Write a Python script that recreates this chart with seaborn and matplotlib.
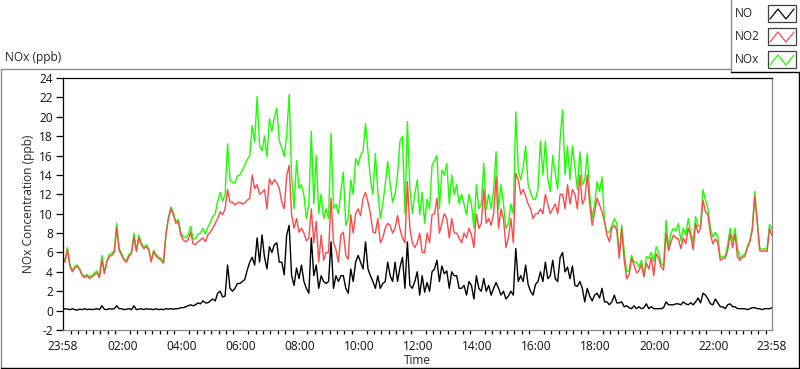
import matplotlib
import matplotlib.pyplot as plt
import numpy as np
import pandas as pd
import seaborn as sns
from matplotlib.lines import Line2D
from matplotlib.patches import Rectangle

matplotlib.use("Agg")

# --- DATA (5-minute readings, starting 23:58) ---
STEP_MIN = 5

no_ppb = [
    0.10, 0.20, 0.15, 0.10, 0.20, 0.10, 0.05, 0.15, 0.10, 0.20, 0.10, 0.15,
    0.10, 0.15, 0.20, 0.10, 0.50, 0.15, 0.10, 0.20, 0.15, 0.20, 0.50, 0.20,
    0.20, 0.10, 0.15, 0.20, 0.10, 0.50, 0.10, 0.15, 0.20, 0.10, 0.20, 0.15,
    0.15, 0.10, 0.20, 0.10, 0.15, 0.10, 0.20, 0.15, 0.20, 0.15, 0.20, 0.20,
    0.30, 0.30, 0.40, 0.50, 0.60, 0.50, 0.60, 0.80, 0.70, 1.00, 0.80, 0.80,
    1.00, 1.20, 1.00, 1.80, 2.00, 1.40, 1.50, 4.70, 2.30, 2.00, 2.30, 2.80,
    2.80, 3.00, 3.20, 4.20, 5.00, 5.50, 4.70, 7.50, 5.00, 7.80, 5.50, 4.30,
    6.60, 6.00, 6.80, 7.00, 5.00, 5.00, 3.70, 7.80, 8.80, 3.60, 2.60, 4.40,
    3.30, 4.70, 3.00, 2.30, 1.80, 7.50, 3.60, 4.70, 2.30, 3.60, 3.00, 2.80,
    3.00, 7.10, 2.30, 3.60, 3.00, 3.60, 3.60, 2.30, 1.80, 4.30, 3.00, 5.00,
    5.70, 5.00, 4.30, 7.10, 4.30, 3.60, 3.00, 2.30, 3.60, 2.30, 2.80, 3.00,
    5.00, 3.60, 3.00, 5.00, 3.00, 4.50, 5.50, 2.30, 7.10, 2.60, 2.30, 3.00,
    4.00, 1.60, 3.60, 1.90, 2.90, 2.00, 4.00, 4.30, 5.20, 3.00, 4.60, 3.80,
    4.10, 2.30, 4.00, 3.60, 3.60, 2.30, 2.30, 2.60, 1.60, 3.00, 2.60, 1.20,
    3.60, 2.30, 2.00, 3.30, 2.00, 2.60, 1.60, 2.30, 2.90, 2.30, 1.60, 2.00,
    1.20, 1.50, 2.00, 1.60, 6.40, 3.00, 3.60, 3.00, 4.70, 2.70, 2.00, 1.60,
    2.70, 3.00, 4.00, 3.00, 5.00, 3.30, 3.60, 5.20, 3.30, 3.00, 5.50, 6.00,
    4.00, 4.50, 3.30, 4.60, 2.60, 2.50, 3.00, 2.30, 0.90, 2.30, 1.50, 1.00,
    1.60, 1.80, 1.30, 2.30, 0.90, 0.90, 0.60, 0.90, 1.60, 0.80, 0.80, 0.90,
    0.40, 0.50, 0.30, 0.20, 0.50, 0.20, 0.40, 0.20, 0.30, 0.70, 0.20, 0.40,
    0.20, 0.20, 0.20, 0.20, 0.30, 0.90, 0.60, 0.60, 0.60, 0.70, 0.70, 0.60,
    0.90, 0.70, 0.60, 0.80, 0.60, 0.90, 1.30, 0.80, 1.80, 1.60, 1.20, 0.70,
    0.60, 1.20, 0.80, 0.40, 0.40, 0.20, 0.60, 0.70, 0.40, 0.40, 0.20, 0.20,
    0.20, 0.20, 0.10, 0.20, 0.30, 0.30, 0.20, 0.20, 0.10, 0.20, 0.20, 0.20, 0.30,
]

no2_ppb = [
    5.4, 5.0, 6.3, 4.6, 4.0, 4.4, 4.6, 4.2, 3.6, 3.4, 3.6, 3.3,
    3.5, 3.7, 3.9, 3.4, 5.3, 3.8, 5.0, 5.6, 5.7, 6.0, 8.6, 6.2,
    5.7, 5.2, 5.0, 5.6, 5.9, 7.6, 6.1, 7.5, 6.8, 6.4, 6.6, 6.3,
    5.0, 6.1, 5.6, 5.4, 5.2, 4.9, 7.8, 9.5, 10.5, 9.9, 9.0, 9.2,
    7.8, 7.3, 7.1, 7.3, 8.1, 6.9, 6.8, 7.1, 7.3, 7.5, 7.1, 7.8,
    8.1, 8.5, 9.0, 9.5, 10.2, 9.9, 10.5, 12.5, 11.2, 11.2, 10.9, 11.1,
    11.2, 11.0, 11.1, 11.4, 11.6, 14.0, 12.6, 13.0, 12.0, 12.2, 12.5, 10.5,
    13.6, 13.0, 13.5, 13.2, 12.6, 11.2, 10.5, 13.9, 15.0, 9.9, 8.5, 9.5,
    8.1, 8.5, 8.0, 7.2, 7.5, 10.5, 7.0, 9.2, 5.0, 7.8, 5.2, 6.0,
    6.0, 11.6, 7.0, 6.3, 5.0, 7.8, 8.1, 5.7, 5.3, 9.9, 8.0, 10.0,
    10.5, 9.8, 11.6, 12.2, 11.2, 10.0, 8.1, 8.0, 9.5, 7.0, 7.5, 8.5,
    9.0, 8.8, 8.0, 8.5, 9.8, 8.4, 7.5, 7.0, 13.3, 8.5, 7.0, 6.5,
    7.0, 8.0, 6.0, 6.0, 8.0, 7.0, 9.9, 10.0, 11.6, 8.0, 9.0, 10.0,
    9.5, 7.5, 9.5, 8.0, 8.0, 7.5, 7.0, 8.0, 7.5, 8.5, 7.8, 6.5,
    10.0, 8.5, 9.0, 12.5, 9.0, 9.5, 8.8, 10.0, 13.8, 8.5, 10.5, 9.5,
    6.5, 7.5, 9.5, 7.0, 14.2, 13.5, 12.0, 12.5, 11.8, 11.0, 10.5, 9.5,
    10.0, 10.0, 10.5, 10.0, 12.0, 11.0, 10.0, 10.5, 11.0, 10.0, 12.0, 12.0,
    10.5, 13.0, 11.0, 12.5, 12.0, 10.5, 14.0, 11.0, 11.5, 14.0, 11.0, 8.8,
    10.2, 11.6, 10.9, 10.2, 9.2, 7.8, 7.1, 8.5, 8.8, 8.3, 5.4, 8.5,
    5.2, 3.3, 3.7, 5.4, 4.7, 3.9, 4.1, 4.8, 3.5, 4.9, 4.3, 5.5,
    3.6, 5.9, 5.4, 4.5, 4.2, 8.0, 6.2, 7.1, 7.8, 7.5, 7.4, 6.4,
    7.5, 6.9, 8.5, 7.7, 6.3, 9.0, 8.0, 8.5, 11.4, 10.2, 9.9, 7.9,
    6.9, 7.4, 7.0, 5.2, 5.4, 5.4, 6.2, 7.9, 6.5, 7.9, 5.5, 5.2,
    5.5, 5.6, 6.5, 7.1, 8.3, 11.8, 9.1, 6.2, 6.1, 6.2, 6.1, 8.5, 7.7,
]

nox_ppb = [
    5.6, 5.2, 6.5, 4.8, 4.1, 4.6, 4.7, 4.3, 3.7, 3.6, 3.7, 3.5,
    3.6, 3.9, 4.1, 3.5, 5.7, 4.0, 5.1, 5.8, 5.9, 6.2, 9.0, 6.4,
    5.9, 5.3, 5.2, 5.8, 6.0, 8.0, 6.2, 7.8, 7.0, 6.5, 6.8, 6.4,
    5.2, 6.2, 5.8, 5.5, 5.4, 5.0, 8.0, 9.6, 10.7, 10.1, 9.2, 9.4,
    8.1, 7.6, 7.5, 7.8, 8.7, 7.4, 7.4, 7.9, 8.0, 8.5, 7.9, 8.6,
    9.1, 9.7, 10.0, 11.3, 12.2, 11.3, 12.0, 17.2, 13.5, 13.2, 13.2, 13.9,
    14.0, 14.5, 15.0, 15.6, 16.0, 19.1, 17.4, 22.1, 17.0, 16.5, 18.0, 15.9,
    19.8, 18.5, 20.0, 20.9, 17.5, 16.8, 15.9, 18.1, 22.3, 14.0, 10.5, 15.5,
    12.6, 13.0, 11.9, 9.5, 11.0, 18.5, 11.0, 16.0, 10.0, 12.0, 9.5, 10.5,
    9.5, 18.3, 10.5, 11.0, 10.0, 12.3, 14.3, 8.8, 9.5, 13.5, 12.0, 15.7,
    15.0, 16.0, 16.5, 19.3, 16.4, 13.5, 12.0, 16.2, 12.3, 9.5, 11.0, 13.0,
    15.4, 13.0, 11.2, 12.0, 14.0, 17.5, 18.0, 10.0, 19.5, 12.6, 10.0, 12.0,
    13.5, 9.9, 12.2, 9.0, 11.5, 10.5, 15.0, 15.5, 16.0, 10.5, 14.5, 14.0,
    15.2, 11.0, 14.0, 12.0, 13.0, 11.0, 12.0, 11.0, 9.9, 12.0, 11.0, 8.5,
    13.0, 10.5, 11.0, 15.2, 10.5, 12.0, 10.5, 12.5, 16.4, 10.5, 13.0, 11.0,
    8.5, 9.0, 11.0, 10.0, 20.5, 14.5, 13.5, 14.8, 17.0, 13.0, 12.2, 11.5,
    11.5, 12.5, 17.5, 14.0, 17.5, 13.5, 12.3, 16.0, 14.2, 12.5, 17.8, 20.7,
    14.0, 17.0, 13.5, 17.0, 14.8, 12.5, 16.4, 13.0, 13.5, 16.2, 12.0, 9.6,
    10.9, 13.3, 12.3, 13.8, 9.2, 8.1, 8.1, 8.8, 9.5, 9.0, 5.8, 8.8,
    6.1, 4.0, 4.1, 5.7, 5.0, 5.0, 4.5, 5.2, 3.5, 5.6, 5.4, 6.0,
    5.1, 6.6, 6.0, 4.9, 4.6, 9.3, 6.6, 8.0, 8.5, 8.2, 9.0, 7.2,
    8.5, 7.8, 9.5, 8.0, 7.1, 9.7, 8.7, 8.8, 12.5, 11.4, 10.5, 8.5,
    7.6, 8.1, 7.6, 5.5, 5.6, 5.6, 6.8, 8.5, 7.2, 8.5, 6.4, 5.4,
    5.7, 5.8, 6.6, 7.2, 8.5, 12.3, 9.3, 6.5, 6.3, 6.4, 6.4, 8.9, 8.4,
]

series_names = ["NO", "NO2", "NOx"]
series_colors = ["#000000", "#ff4848", "#1cff00"]
time_labels = ["23:58", "02:00", "04:00", "06:00", "08:00", "10:00", "12:00",
               "14:00", "16:00", "18:00", "20:00", "22:00", "23:58"]
y_ticks = list(range(-2, 26, 2))

W, H = 800, 369
FS = 8.6


def fx(px):
    return px / W


def fy(py):
    return 1 - py / H


minutes = np.arange(len(no_ppb)) * STEP_MIN
df = pd.DataFrame({"minute": minutes, "NO": no_ppb, "NO2": no2_ppb, "NOx": nox_ppb})
long_df = df.melt(id_vars="minute", var_name="series", value_name="ppb")

sns.set_style("white")
plt.rcParams["font.family"] = ["Open Sans", "DejaVu Sans"]
plt.rcParams["font.size"] = FS

fig = plt.figure(figsize=(W / 100, H / 100), dpi=100)
fig.patch.set_facecolor("white")
ax = fig.add_axes([fx(62.5), fy(330), fx(772) - fx(62.5), fy(78) - fy(330)])

# NOx behind, NO2 over it, NO on top
for name, zo in [("NOx", 1), ("NO2", 2), ("NO", 3)]:
    sns.lineplot(
        data=long_df[long_df["series"] == name], x="minute", y="ppb",
        color=series_colors[series_names.index(name)], lw=1.0,
        estimator=None, ax=ax, zorder=zo, legend=False,
    )

ax.set_xlim(0, 1440)
ax.set_ylim(-2, 24)
ax.set_yticks(y_ticks)
ax.set_yticklabels([str(v) for v in y_ticks], color="#101010")

major_pos = [0] + [int(t[:2]) * 60 + 2 for t in time_labels[1:-1]] + [1440]
ax.set_xticks(major_pos)
ax.set_xticklabels(time_labels, color="#101010")
minor_pos = [m for m in range(17, 1440, 15) if all(abs(m - p) > 3 for p in major_pos)]
ax.set_xticks(minor_pos, minor=True)
ax.tick_params(axis="x", which="major", length=5, width=0.9, pad=2, color="black")
ax.tick_params(axis="x", which="minor", length=3, width=0.9, color="black", bottom=True)
ax.tick_params(axis="y", which="major", length=5, width=0.9, pad=2, color="black", left=True)

ax.set_xlabel("Time", labelpad=1)
ax.set_ylabel("NOx Concentration (ppb)", labelpad=3)

for side in ["left", "top"]:
    ax.spines[side].set_color("black")
    ax.spines[side].set_linewidth(0.9)
for side in ["right", "bottom"]:
    ax.spines[side].set_color("#8a8a8a")
    ax.spines[side].set_linewidth(0.9)

# plot label
fig.text(fx(5), fy(58), "NOx (ppb)", ha="left", va="center", fontsize=FS)

# outer graph frame
frame = [
    ((0.5, 730), (69, 69), "#8a8a8a"),
    ((0.5, 0.5), (69, 368), "#8a8a8a"),
    ((0.5, 799), (368, 368), "#000000"),
    ((798.5, 798.5), (72, 368), "#000000"),
]
for xs, ys, c in frame:
    fig.add_artist(Line2D([fx(x) for x in xs], [fy(y) for y in ys], color=c, lw=1.0))

# legend box, LabVIEW style
legend_lines = [
    ((730.5, 730.5), (0, 72), "#8a8a8a"),
    ((730.5, 799), (72, 72), "#000000"),
]
for xs, ys, c in legend_lines:
    fig.add_artist(Line2D([fx(x) for x in xs], [fy(y) for y in ys], color=c, lw=1.0))

for i, (name, color) in enumerate(zip(series_names, series_colors)):
    top = 5 + i * 23
    fig.text(fx(735), fy(top + 8.5), name, ha="left", va="center", fontsize=FS)
    fig.add_artist(Rectangle((fx(768), fy(top + 17)), fx(796) - fx(768), fy(top) - fy(top + 17),
                             transform=fig.transFigure, facecolor="white",
                             edgecolor="#404040", lw=0.9))
    zx = [770, 778, 786, 794]
    zy = [top + 14, top + 4, top + 14, top + 4]
    fig.add_artist(Line2D([fx(x) for x in zx], [fy(y) for y in zy], color=color, lw=0.9))

fig.savefig("out.png", dpi=100, facecolor="white")
